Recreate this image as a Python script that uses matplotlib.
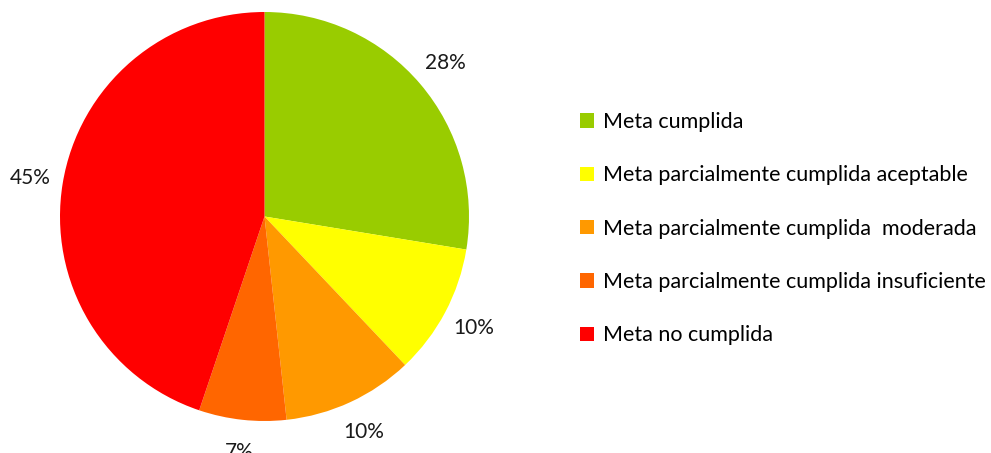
import matplotlib.pyplot as plt

# Datos del grafico
categorias = ['Meta cumplida',
              'Meta parcialmente cumplida aceptable',
              'Meta parcialmente cumplida  moderada',
              'Meta parcialmente cumplida insuficiente',
              'Meta no cumplida']
valores = [8, 3, 3, 2, 13]
colores = ['#99CC00', '#FFFF00', '#FF9900', '#FF6600', '#FF0000']

plt.rcParams['font.family'] = ['Lato', 'DejaVu Sans']

fig = plt.figure(figsize=(9.91, 4.53), dpi=100)

# Ejes del pastel: centro (264.5, 216.5) px, radio 204.5 px
cx, cy, r = 264.5, 453 - 216.5, 204.5
ax = fig.add_axes([(cx - r) / 991, (cy - r) / 453, 2 * r / 991, 2 * r / 453])

wedges, _, autotexts = ax.pie(valores, colors=colores, startangle=90, counterclock=False,
                              autopct='%1.0f%%', pctdistance=1.16,
                              wedgeprops=dict(linewidth=0),
                              textprops=dict(fontsize=15, color='#1a1a1a'))
for t in autotexts:
    t.set_clip_on(False)
ax.set_xlim(-1, 1)
ax.set_ylim(-1, 1)
ax.set_aspect('equal')

# Leyenda a la derecha
fig.legend(wedges, categorias, loc='upper left', bbox_to_anchor=(580 / 991, 1 - 112 / 453),
           frameon=False, fontsize=15.5, handlelength=0.65, handleheight=0.65,
           handletextpad=0.4, labelspacing=1.55, borderpad=0, borderaxespad=0)

plt.savefig('out.png', dpi=100)
